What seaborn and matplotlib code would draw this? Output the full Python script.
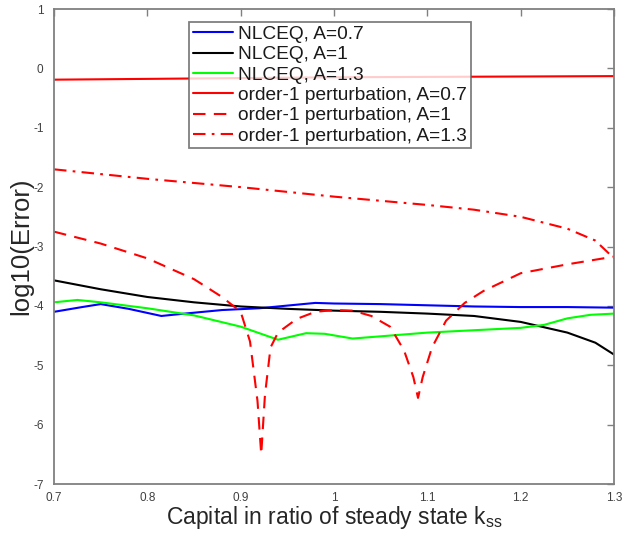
import matplotlib
matplotlib.use("Agg")
import matplotlib.pyplot as plt
import seaborn as sns
import numpy as np

sns.set_style("white")
plt.rcParams['font.family'] = ['Liberation Sans', 'DejaVu Sans']
plt.rcParams['axes.unicode_minus'] = False

# NLCEQ, A=0.7 (blue)
x_blue = [0.70, 0.73, 0.75, 0.78, 0.815, 0.84, 0.88, 0.92, 0.96, 0.98, 1.00, 1.05, 1.10, 1.15, 1.20, 1.25, 1.30]
y_blue = [-4.10, -4.02, -3.97, -4.05, -4.17, -4.13, -4.07, -4.04, -3.98, -3.95, -3.96, -3.97, -3.99, -4.01, -4.02, -4.02, -4.03]

# NLCEQ, A=1 (black)
x_black = [0.70, 0.75, 0.80, 0.85, 0.90, 0.95, 1.00, 1.05, 1.10, 1.15, 1.20, 1.25, 1.28, 1.30]
y_black = [-3.57, -3.72, -3.85, -3.94, -4.01, -4.05, -4.08, -4.10, -4.13, -4.17, -4.27, -4.45, -4.62, -4.82]

# NLCEQ, A=1.3 (green)
x_green = [0.70, 0.725, 0.75, 0.80, 0.85, 0.90, 0.94, 0.97, 0.99, 1.02, 1.06, 1.10, 1.15, 1.20, 1.225, 1.25, 1.275, 1.30]
y_green = [-3.94, -3.90, -3.94, -4.04, -4.16, -4.35, -4.57, -4.46, -4.47, -4.55, -4.50, -4.45, -4.41, -4.37, -4.32, -4.21, -4.15, -4.13]

# order-1 perturbation, A=0.7 (red solid)
x_p07 = [0.70, 0.85, 1.00, 1.15, 1.30]
y_p07 = [-0.19, -0.17, -0.15, -0.14, -0.13]

# order-1 perturbation, A=1 (red dashed)
x_p10 = [0.70, 0.75, 0.80, 0.85, 0.88, 0.90, 0.91, 0.918, 0.922, 0.926, 0.932, 0.94, 0.96, 0.98, 1.00, 1.02, 1.04, 1.06, 1.075, 1.085, 1.09, 1.095, 1.105, 1.12, 1.14, 1.16, 1.20, 1.25, 1.30]
y_p10 = [-2.75, -2.95, -3.20, -3.55, -3.85, -4.10, -4.60, -5.60, -6.50, -5.50, -4.70, -4.45, -4.22, -4.10, -4.07, -4.08, -4.17, -4.35, -4.75, -5.20, -5.55, -5.20, -4.70, -4.25, -3.95, -3.75, -3.45, -3.30, -3.17]

# order-1 perturbation, A=1.3 (red dash-dot)
x_p13 = [0.70, 0.75, 0.80, 0.85, 0.90, 0.95, 1.00, 1.05, 1.10, 1.15, 1.20, 1.25, 1.28, 1.30]
y_p13 = [-1.70, -1.78, -1.86, -1.93, -2.00, -2.08, -2.16, -2.23, -2.30, -2.38, -2.50, -2.70, -2.90, -3.20]

labels = ["NLCEQ, A=0.7", "NLCEQ, A=1", "NLCEQ, A=1.3",
          "order-1 perturbation, A=0.7", "order-1 perturbation, A=1", "order-1 perturbation, A=1.3"]

xticks = [0.7, 0.8, 0.9, 1.0, 1.1, 1.2, 1.3]
xticklabels = ["0.7", "0.8", "0.9", "1", "1.1", "1.2", "1.3"]
yticks = [-7, -6, -5, -4, -3, -2, -1, 0, 1]

fig = plt.figure(figsize=(6.23, 5.40), dpi=100)
ax = fig.add_axes([0.0867, 0.1037, 0.8989, 0.8796])

lw = 1.5
sns.lineplot(x=x_blue, y=y_blue, ax=ax, color="#0000ff", lw=lw, label=labels[0], sort=False)
sns.lineplot(x=x_black, y=y_black, ax=ax, color="#000000", lw=lw, label=labels[1], sort=False)
sns.lineplot(x=x_green, y=y_green, ax=ax, color="#00ff00", lw=lw, label=labels[2], sort=False)
sns.lineplot(x=x_p07, y=y_p07, ax=ax, color="#ff0000", lw=lw, label=labels[3], sort=False)
sns.lineplot(x=x_p10, y=y_p10, ax=ax, color="#ff0000", lw=lw, label=labels[4], sort=False)
sns.lineplot(x=x_p13, y=y_p13, ax=ax, color="#ff0000", lw=lw, label=labels[5], sort=False)
lines = ax.get_lines()
lines[4].set_dashes([6, 4])
lines[5].set_dashes([6, 3, 1.3, 3])

ax.set_xlim(0.7, 1.3)
ax.set_ylim(-7, 1)
ax.set_xticks(xticks)
ax.set_xticklabels(xticklabels)
ax.set_yticks(yticks)
ax.tick_params(direction="in", length=5, width=1, color="#808080", labelcolor="#404040",
               labelsize=8.5, top=True, right=True)
ax.tick_params(axis="y", pad=7.5)
ax.tick_params(axis="x", pad=6)
for s in ax.spines.values():
    s.set_color("#808080")
    s.set_linewidth(1.3)

ax.set_xlabel("Capital in ratio of steady state k$_{\\mathregular{ss}}$", fontsize=16.5, color="#262626", labelpad=0)
ax.set_ylabel("log10(Error)", fontsize=18.5, color="#262626", labelpad=0)

leg = ax.legend(loc="upper left", bbox_to_anchor=(0.241, 0.973), borderaxespad=0,
                fontsize=13.8, frameon=True, fancybox=False, handlelength=2.1,
                handletextpad=0.26, labelspacing=0.15, borderpad=0.2)
leg.get_frame().set_edgecolor("#606060")
leg.get_frame().set_linewidth(1.3)
for t in leg.get_texts():
    t.set_color("#1a1a1a")

fig.savefig("out.png", dpi=100)
